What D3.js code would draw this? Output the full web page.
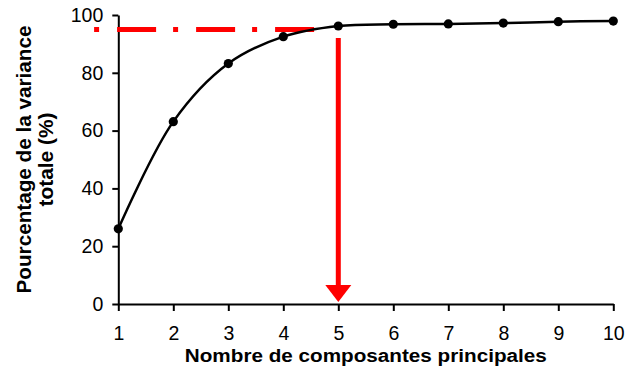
<!DOCTYPE html>
<html><head><meta charset="utf-8">
<script src="https://cdn.jsdelivr.net/npm/d3@7"></script>
<style>
html,body{margin:0;padding:0;background:#fff;}
svg{display:block;font-family:"Liberation Sans",Arial,sans-serif;}
</style></head>
<body><svg id="c" width="626" height="368"></svg>
<script>
const components = [1,2,3,4,5,6,7,8,9,10];
const cumVariance = [26,63.1,83.2,92.5,96.2,96.8,96.9,97.2,97.7,97.9];
const yTicks = [0,20,40,60,80,100];
const xTicks = [1,2,3,4,5,6,7,8,9,10];
const thresholdValue = [95];
const thresholdRange = [0.56,4.6];
const arrowX = [5];
const arrowRange = [92,0];
const xTitle = ["Nombre de composantes principales"];
const yTitle = ["Pourcentage de la variance","totale (%)"];

const svg = d3.select("#c");
const x = d3.scaleLinear().domain([1,10]).range([118.3,613.3]);
const y = d3.scaleLinear().domain([0,100]).range([304,15]);

// axes
const gx = svg.append("g").attr("transform","translate(0,"+y(0)+")")
  .call(d3.axisBottom(x).tickValues(xTicks).tickSize(7).tickSizeOuter(0).tickPadding(15));
const gy = svg.append("g").attr("transform","translate("+x(1)+",0)")
  .call(d3.axisLeft(y).tickValues(yTicks).tickSize(6).tickSizeOuter(0).tickPadding(9));
[gx,gy].forEach(g=>{
  g.select(".domain").attr("stroke","#000").attr("stroke-width",2);
  g.selectAll(".tick line").attr("stroke","#000").attr("stroke-width",2);
  g.selectAll(".tick text").attr("fill","#000").attr("font-size",19.5)
    .attr("font-family","'Liberation Sans',Arial,sans-serif");
});
gx.selectAll(".tick text").attr("dy","0.71em");

// threshold line
svg.append("line")
  .attr("x1",x(thresholdRange[0])).attr("x2",x(thresholdRange[1]))
  .attr("y1",y(thresholdValue[0])).attr("y2",y(thresholdValue[0]))
  .attr("stroke","#ff0000").attr("stroke-width",5)
  .attr("stroke-dasharray","5,18,39,17");

// curve
const pts = components.map((c,i)=>[c,cumVariance[i]]);
svg.append("path").datum(pts)
  .attr("d",d3.line().x(d=>x(d[0])).y(d=>y(d[1])).curve(d3.curveCatmullRom.alpha(0.5)))
  .attr("fill","none").attr("stroke","#000").attr("stroke-width",2.5);
svg.selectAll("circle.pt").data(pts).enter().append("circle")
  .attr("class","pt").attr("cx",d=>x(d[0])).attr("cy",d=>y(d[1])).attr("r",4.6).attr("fill","#000");

// arrow
const ax = x(arrowX[0]);
const tipY = y(arrowRange[1]) - 2;
svg.append("line").attr("x1",ax).attr("x2",ax)
  .attr("y1",y(arrowRange[0])).attr("y2",tipY-15)
  .attr("stroke","#ff0000").attr("stroke-width",5);
svg.append("path")
  .attr("d",`M${ax-13},${tipY-17}L${ax+13},${tipY-17}L${ax},${tipY}Z`)
  .attr("fill","#ff0000");

// titles
svg.append("text").attr("x",(x(1)+x(10))/2).attr("y",362)
  .attr("text-anchor","middle").attr("font-weight","bold").attr("font-size",18)
  .attr("textLength",362).attr("lengthAdjust","spacingAndGlyphs")
  .text(xTitle[0]);
const yc = (y(0)+y(100))/2;
svg.append("text").attr("transform",`translate(31,${yc}) rotate(-90)`)
  .attr("text-anchor","middle").attr("font-weight","bold").attr("font-size",20)
  .attr("textLength",268).attr("lengthAdjust","spacingAndGlyphs")
  .text(yTitle[0]);
svg.append("text").attr("transform",`translate(53,${yc}) rotate(-90)`)
  .attr("text-anchor","middle").attr("font-weight","bold").attr("font-size",20)
  .attr("textLength",94).attr("lengthAdjust","spacingAndGlyphs")
  .text(yTitle[1]);
</script></body></html>
